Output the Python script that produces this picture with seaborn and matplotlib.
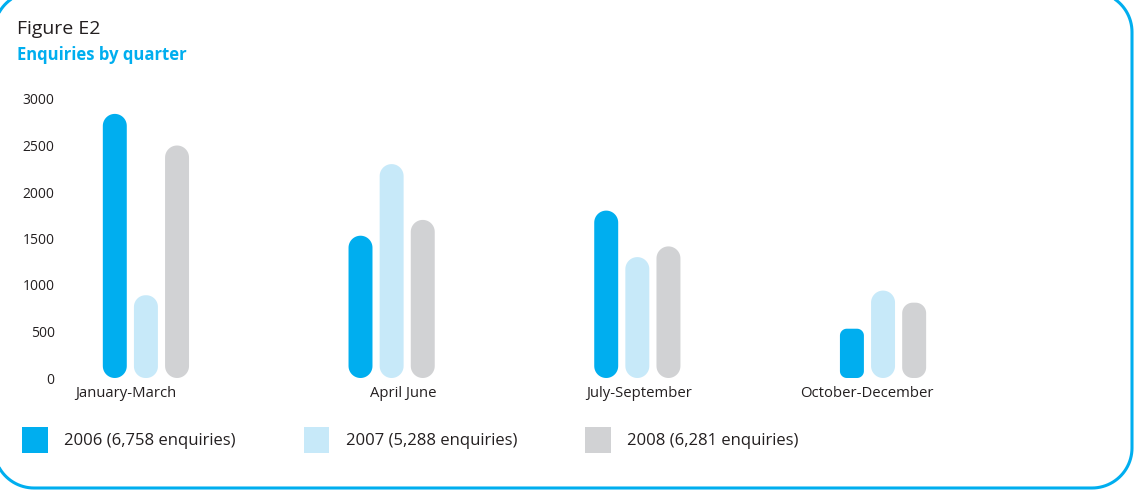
import matplotlib
matplotlib.use("Agg")
import numpy as np
import matplotlib.pyplot as plt
import matplotlib.transforms as mtransforms
import seaborn as sns
import pandas as pd
from matplotlib.patches import Patch, Polygon

# ---- data ----
quarters = ["January-March", "April June", "July-September", "October-December"]
years = ["2006 (6,758 enquiries)", "2007 (5,288 enquiries)", "2008 (6,281 enquiries)"]
v2006 = [2840, 1530, 1800, 530]
v2007 = [890, 2300, 1300, 940]
v2008 = [2500, 1700, 1415, 810]
yticks = [0, 500, 1000, 1500, 2000, 2500, 3000]
colors = ["#00AEEF", "#C7E9F9", "#D1D2D4"]

df = pd.DataFrame({
    "quarter": quarters * 3,
    "year": [years[0]] * 4 + [years[1]] * 4 + [years[2]] * 4,
    "value": v2006 + v2007 + v2008,
})

sns.set_theme(style="white")
plt.rcParams["font.family"] = ["Open Sans", "DejaVu Sans"]

W, H = 1135, 490
fig = plt.figure(figsize=(W / 100, H / 100), dpi=100)


def rounded_poly(x, y, w, h, rx, ry, n=24):
    t = np.linspace(0, np.pi / 2, n)
    pts = []
    cx, cy = x + rx, y + ry
    pts += list(zip(cx - rx * np.cos(t), cy - ry * np.sin(t)))
    cx, cy = x + w - rx, y + ry
    pts += list(zip(cx + rx * np.sin(t), cy - ry * np.cos(t)))
    cx, cy = x + w - rx, y + h - ry
    pts += list(zip(cx + rx * np.cos(t), cy + ry * np.sin(t)))
    cx, cy = x + rx, y + h - ry
    pts += list(zip(cx - rx * np.sin(t), cy + ry * np.cos(t)))
    return np.array(pts)


# background overlay in pixel units (y up) for the rounded frame
bg = fig.add_axes([0, 0, 1, 1], zorder=-1)
bg.set_xlim(0, W)
bg.set_ylim(0, H)
bg.axis("off")
frame = Polygon(rounded_poly(-6, 2, 1138, 496, 40, 40), closed=True, fill=False,
                edgecolor="#00AEEF", linewidth=2.2, clip_on=True)
bg.add_patch(frame)

ax = fig.add_axes([70 / W, (H - 378) / H, 930 / W, 279 / H])
ax.patch.set_alpha(0)

sns.barplot(data=df, x="quarter", y="value", hue="year", order=quarters,
            hue_order=years, palette=colors, saturation=1, width=0.38,
            gap=0.23, legend=False, ax=ax)

ax.set_xlim(-0.309, 3.476)
ax.set_ylim(0, 3000)
ax.set_yticks(yticks)
ax.set_yticklabels([str(t) for t in yticks])
ax.set_xlabel("")
ax.set_ylabel("")
for s in ax.spines.values():
    s.set_visible(False)
ax.tick_params(axis="y", length=0, labelsize=10, colors="#231F20", pad=11)
ax.tick_params(axis="x", length=0, labelsize=10.7, colors="#231F20", pad=6)

# label offsets (pixels) to match the reference placement
offs = [-20, 12, 2, -16]
for lab, o in zip(ax.get_xticklabels(), offs):
    lab.set_transform(lab.get_transform() + mtransforms.ScaledTranslation(o / 100, 0, fig.dpi_scale_trans))

# ---- replace bars by rounded (pill) bars ----
p0 = ax.transData.transform((0, 0))
p1 = ax.transData.transform((1, 1))
px_x = p1[0] - p0[0]
px_y = p1[1] - p0[1]

rects = list(ax.patches)
for r in rects:
    x, y = r.get_x(), r.get_y()
    w, h = r.get_width(), r.get_height()
    fc = r.get_facecolor()
    r.remove()
    w_px = w * px_x
    h_px = h * px_y
    rad_px = min(w_px / 2, h_px * 0.14)
    poly = Polygon(rounded_poly(x, y, w, h, rad_px / px_x, rad_px / px_y, n=16), closed=True,
                   facecolor=fc, edgecolor="none", clip_on=False)
    ax.add_patch(poly)

# ---- titles ----
fig.text(17 / W, 1 - 29 / H, "Figure E2", fontsize=14, color="#231F20", va="center", ha="left")
fig.text(17 / W, 1 - 55 / H, "Enquiries by quarter", fontsize=12, fontweight="bold",
         color="#00AEEF", va="center", ha="left")

# ---- legend ----
handles = [Patch(facecolor=c, edgecolor="none") for c in colors]
fig.legend(handles, years, loc="center left", bbox_to_anchor=(22 / W, 1 - 440 / H),
           ncol=3, frameon=False, fontsize=12, handlelength=1.55, handleheight=2.0,
           handletextpad=1.0, columnspacing=4.05, borderpad=0, borderaxespad=0,
           labelcolor="#231F20")

fig.savefig("out.png", dpi=100)
